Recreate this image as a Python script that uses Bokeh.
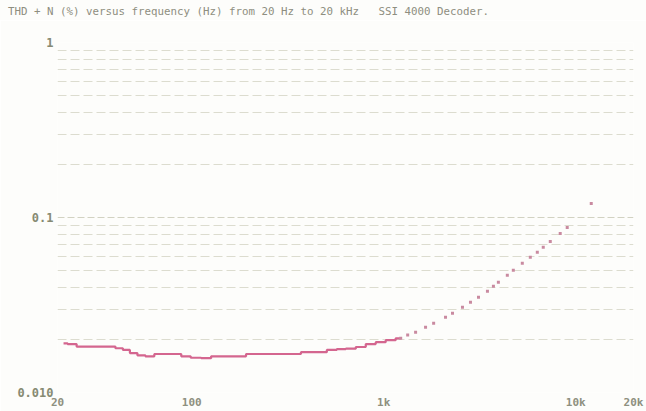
from bokeh.plotting import figure
from bokeh.models import FixedTicker, ColumnDataSource, Range1d, Div
from bokeh.layouts import column
from bokeh.embed import file_html
from bokeh.resources import INLINE

# ---- data ----
freq_hz = [21.5, 23.7, 26.7, 31.9, 38.2, 42.0, 45.7, 49.7, 54.7, 60.2, 67.8, 76.4,
           84.1, 92.5, 105.5, 118.9, 134, 156.6, 180.7, 203.8, 243.8, 291.7, 349,
           393.6, 470.8, 543, 598, 674, 760, 856, 965, 1087, 1226,
           1333, 1466, 1652, 1820, 2099, 2282, 2572, 2831, 3117, 3470, 3727, 3956,
           4404, 4732, 5271, 5802, 6310, 6776, 7372, 8305, 9033, 12050]
thdn_pct = [0.0191, 0.0189, 0.0183, 0.0183, 0.0183, 0.0179, 0.0175, 0.0168, 0.0163,
            0.0161, 0.0166, 0.0166, 0.0166, 0.0161, 0.0158, 0.0157, 0.0161, 0.0161,
            0.0161, 0.0166, 0.0166, 0.0166, 0.0166, 0.0170, 0.0170, 0.0175, 0.0177,
            0.0178, 0.0182, 0.0189, 0.0194, 0.0199, 0.0204,
            0.0213, 0.0221, 0.0236, 0.0249, 0.0269, 0.0284, 0.0307, 0.0328, 0.0350,
            0.0379, 0.0405, 0.0426, 0.0467, 0.0499, 0.0547, 0.0592, 0.0632, 0.0675,
            0.0730, 0.0811, 0.0877, 0.1202]
n_solid = 33  # points drawn as a continuous trace (low-distortion region)

x_ticks = [20, 100, 1000, 10000, 20000]
x_labels = ["20", "100", "1k", "10k", "20k"]
y_ticks = [0.01, 0.1, 1]
y_labels = ["0.010", "0.1", "1"]
y_minor = [0.02, 0.03, 0.04, 0.05, 0.06, 0.07, 0.08, 0.09,
           0.2, 0.3, 0.4, 0.5, 0.6, 0.7, 0.8, 0.9]

title_text = "THD + N (%) versus frequency (Hz) from 20 Hz to 20 kHz   SSI 4000 Decoder."

# ---- title ----
title_div = Div(
    text=('<div style="padding:5px 0 0 8px;font-family:\'DejaVu Sans Mono\';'
          'font-size:10.8px;line-height:13px;color:#8e8e80;white-space:pre;'
          'background:#fdfdfb">' + title_text + '</div>'),
    width=646, height=20, margin=0,
    styles={"background-color": "#fdfdfb"})

# ---- figure ----
p = figure(width=646, height=391, x_axis_type="log", y_axis_type="log",
           x_range=Range1d(20, 20000), y_range=Range1d(0.01, 1),
           output_backend="svg", toolbar_location=None, margin=0,
           min_border_left=57, min_border_right=13, min_border_top=22, min_border_bottom=18)
p.background_fill_color = "#fdfdfb"
p.border_fill_color = "#fdfdfb"
p.outline_line_color = None

mono = "DejaVu Sans Mono"

xa = p.xaxis[0]
xa.ticker = FixedTicker(ticks=x_ticks)
xa.major_label_overrides = {t: l for t, l in zip(x_ticks, x_labels)}
xa.axis_line_color = None
xa.major_tick_line_color = None
xa.minor_tick_line_color = None
xa.major_tick_out = 0
xa.major_label_standoff = 3
xa.major_label_text_font = mono
xa.major_label_text_font_size = "11px"
xa.major_label_text_font_style = "bold"
xa.major_label_text_color = "#8e9080"

ya = p.yaxis[0]
ya.ticker = FixedTicker(ticks=y_ticks)
ya.major_label_overrides = {0.01: y_labels[0], 0.1: y_labels[1], 1: y_labels[2]}
ya.axis_line_color = None
ya.major_tick_line_color = None
ya.minor_tick_line_color = None
ya.major_tick_out = 0
ya.major_label_standoff = 4
ya.major_label_text_font = mono
ya.major_label_text_font_size = "12px"
ya.major_label_text_font_style = "bold"
ya.major_label_text_color = "#868a72"

p.xgrid.grid_line_color = None
p.ygrid.ticker = FixedTicker(ticks=y_ticks, minor_ticks=y_minor)
p.ygrid.grid_line_color = "#d2d2c2"
p.ygrid.grid_line_dash = "7 3"
p.ygrid.grid_line_width = 1
p.ygrid.minor_grid_line_color = "#dcdccf"
p.ygrid.minor_grid_line_dash = "9 4"
p.ygrid.minor_grid_line_width = 1

src_solid = ColumnDataSource(dict(f=freq_hz[:n_solid], v=thdn_pct[:n_solid]))
src_dots = ColumnDataSource(dict(f=freq_hz[n_solid - 1:], v=thdn_pct[n_solid - 1:]))

p.step(x="f", y="v", source=src_solid, line_color="#d4668f", line_width=2.2, mode="center")
p.scatter(x="f", y="v", source=src_dots, marker="square", size=3,
          fill_color="#c98aa0", line_color=None)

layout = column(title_div, p, spacing=0, margin=0)

open("out.html", "w").write(file_html(layout, INLINE))
